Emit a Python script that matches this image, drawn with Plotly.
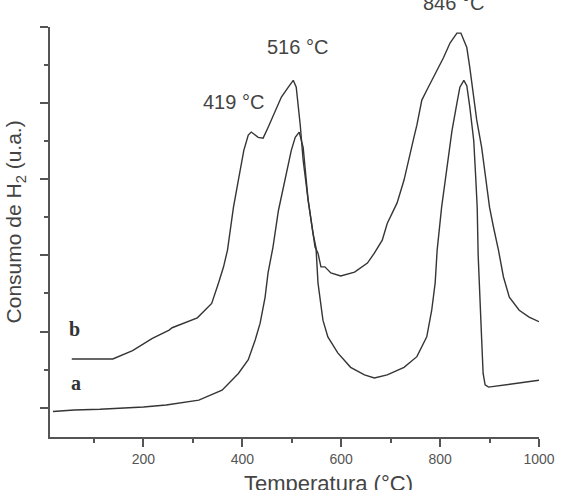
import plotly.graph_objects as go

# Curve a (lower TPR profile)
a_x = [17, 60, 112, 150, 200, 246, 292, 312, 359, 392, 412, 426, 436, 446, 452, 462, 473, 487, 499, 507, 515,
       523, 527, 533, 543, 549, 553, 557, 563, 573, 593, 619, 647, 667, 693, 727, 753, 773, 783, 790, 794,
       803, 813, 824, 834, 840, 848, 854, 860, 868, 872, 875, 877, 880, 884, 887, 891, 898, 954, 1000]
a_y = [-0.05, -0.03, -0.02, -0.01, 0.01, 0.035, 0.08, 0.10, 0.23, 0.45, 0.63, 0.89, 1.11, 1.45, 1.77, 2.11,
       2.59, 3.03, 3.38, 3.55, 3.62, 3.42, 3.16, 2.73, 2.29, 2.10, 1.64, 1.41, 1.15, 0.93, 0.72, 0.53, 0.43,
       0.39, 0.43, 0.53, 0.67, 0.93, 1.28, 1.64, 2.07, 2.63, 3.12, 3.64, 4.00, 4.21, 4.30, 4.23, 3.95, 3.51,
       3.03, 2.63, 2.0, 1.4, 0.9, 0.45, 0.30, 0.27, 0.32, 0.36]

# Curve b (upper TPR profile)
b_x = [55, 138, 178, 218, 252, 258, 309, 318, 338, 352, 362, 370, 382, 392, 403, 412, 418, 432, 442, 452, 467,
       479, 493, 503, 509, 517, 523, 533, 547, 553, 559, 567, 579, 599, 627, 653, 667, 683, 693, 713, 727,
       737, 747, 753, 763, 773, 787, 807, 820, 834, 842, 854, 860, 868, 874, 884, 890, 900, 908, 918, 928,
       940, 960, 980, 1000]
b_y = [0.64, 0.64, 0.75, 0.91, 1.02, 1.05, 1.18, 1.24, 1.37, 1.64, 1.85, 2.07, 2.63, 2.99, 3.38, 3.58, 3.62,
       3.55, 3.54, 3.68, 3.91, 4.08, 4.21, 4.30, 4.21, 3.72, 3.25, 2.73, 2.11, 2.03, 1.85, 1.85, 1.77, 1.73,
       1.78, 1.90, 2.03, 2.20, 2.42, 2.69, 2.99, 3.29, 3.55, 3.71, 4.04, 4.17, 4.34, 4.60, 4.79, 4.92, 4.92,
       4.73, 4.47, 4.08, 3.78, 3.42, 3.12, 2.63, 2.37, 2.07, 1.72, 1.45, 1.28, 1.19, 1.13]

x_ticks = [200, 400, 600, 800, 1000]
peak_labels = ["419 °C", "516 °C", "846 °C"]
peak_pos = [(0.375, 0.817), (0.507, 0.951), (0.826, 1.058)]   # paper fractions
curve_labels = ["b", "a"]
curve_label_pos = [(0.051, 0.263), (0.053, 0.132)]

line_col = "#353535"
sans = "Liberation Sans, Arial"
fig = go.Figure()
fig.add_trace(go.Scatter(x=a_x, y=a_y, mode="lines", line=dict(color=line_col, width=1.4), showlegend=False))
fig.add_trace(go.Scatter(x=b_x, y=b_y, mode="lines", line=dict(color=line_col, width=1.4), showlegend=False))

ann = []
for t, (x, y) in zip(peak_labels, peak_pos):
    ann.append(dict(x=x, y=y, xref="paper", yref="paper", text=t, showarrow=False,
                    xanchor="center", yanchor="middle", font=dict(family=sans, size=20, color="#444")))
for t, (x, y) in zip(curve_labels, curve_label_pos):
    ann.append(dict(x=x, y=y, xref="paper", yref="paper", text="<b>" + t + "</b>", showarrow=False,
                    xanchor="center", yanchor="middle",
                    font=dict(family="Liberation Serif, Times New Roman", size=20, color="#333")))
ann.append(dict(x=0.570, y=-0.114, xref="paper", yref="paper", text="Temperatura (°C)", showarrow=False,
                xanchor="center", yanchor="middle", font=dict(family=sans, size=22, color="#444")))
ann.append(dict(x=-0.071, y=0.524, xref="paper", yref="paper", text="Consumo de H<sub>2</sub> (u.a.)",
                showarrow=False, textangle=-90, xanchor="center", yanchor="middle",
                font=dict(family=sans, size=21, color="#444")))

fig.update_layout(
    width=567, height=490,
    margin=dict(l=50, r=24, t=27, b=53),
    paper_bgcolor="white", plot_bgcolor="white",
    annotations=ann,
    xaxis=dict(range=[11, 1000], showgrid=False, zeroline=False, showline=True, linecolor="#555", linewidth=1.5,
               ticks="outside", ticklen=8, tickwidth=1.5, tickcolor="#555",
               tickmode="array", tickvals=x_ticks, ticktext=[str(v) for v in x_ticks],
               tickfont=dict(family=sans, size=14, color="#555"),
               minor=dict(ticks="outside", ticklen=4, tickwidth=1.5, tickcolor="#555", tickmode="linear",
                          tick0=100, dtick=200)),
    yaxis=dict(range=[-0.385, 5.0], showgrid=False, zeroline=False, showline=True, linecolor="#555",
               linewidth=1.5, ticks="outside", ticklen=8, tickwidth=1.5, tickcolor="#555",
               tickmode="linear", tick0=0, dtick=1, showticklabels=False,
               minor=dict(ticks="outside", ticklen=4, tickwidth=1.5, tickcolor="#555", tickmode="linear",
                          tick0=0.5, dtick=1)),
)

fig.write_html("out.html")
